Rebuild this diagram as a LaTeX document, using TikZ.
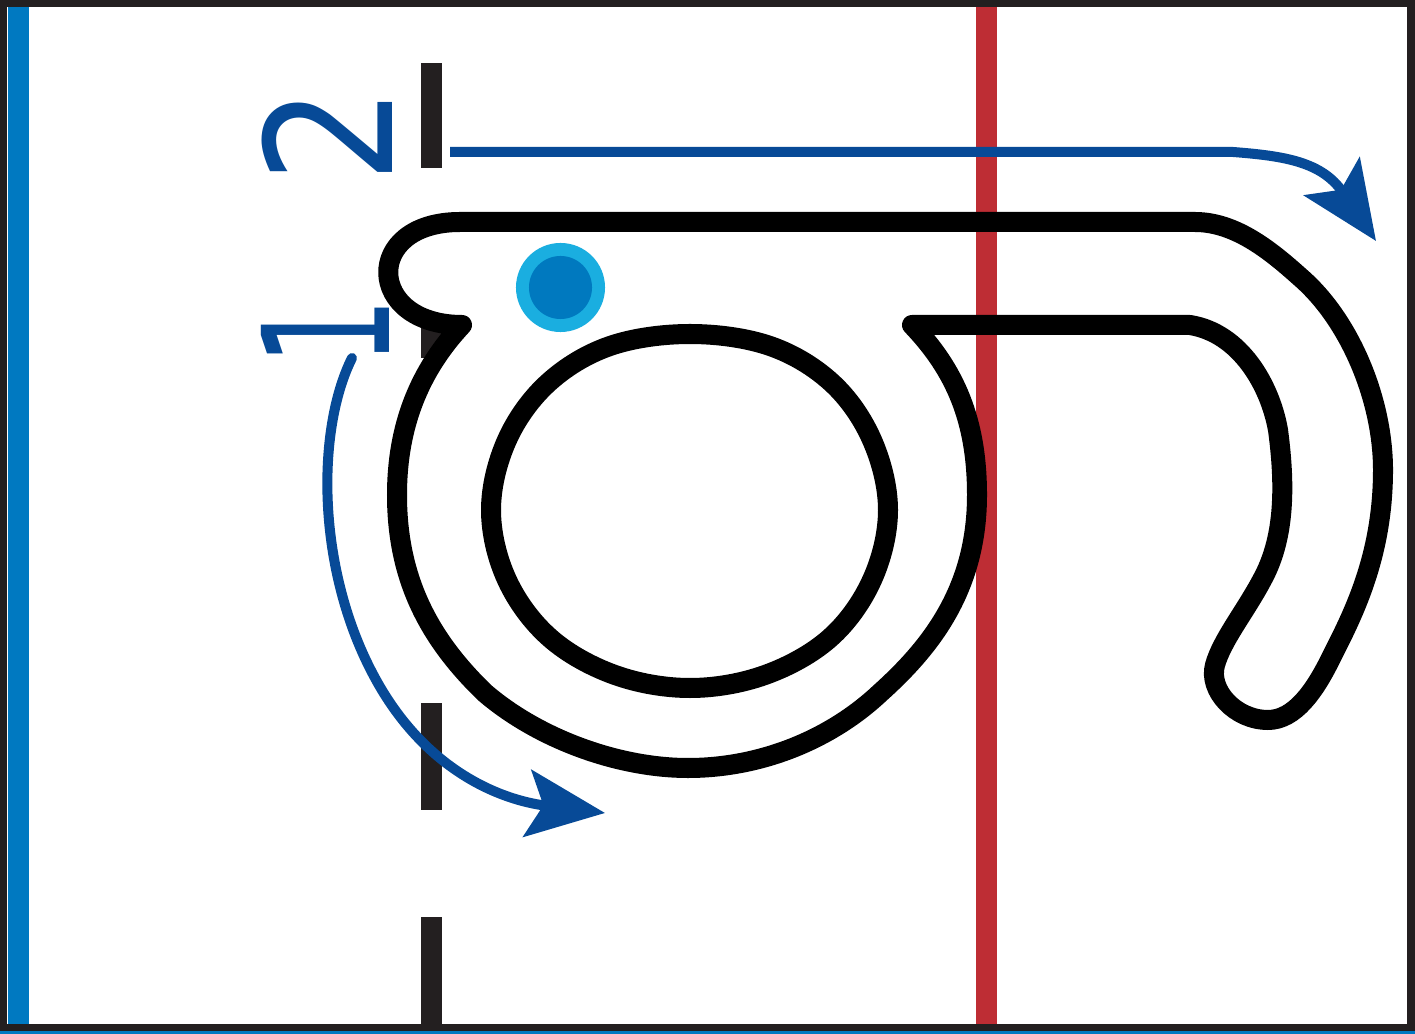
\documentclass[tikz,border=0pt]{standalone}
\usepackage{fontspec}
\newfontfamily\digitfont{DejaVu Sans}
\usepackage{xcolor}
\usetikzlibrary{arrows.meta}

\definecolor{frameblack}{HTML}{231F20}
\definecolor{blueline}{HTML}{0079C1}
\definecolor{redline}{HTML}{BE2D34}
\definecolor{playblue}{HTML}{074A97}
\definecolor{puckcyan}{HTML}{1AAEE0}
\definecolor{puckblue}{HTML}{0079BF}

\begin{document}
\begin{tikzpicture}[
  x=0.01cm, y=-0.01cm,
  skate/.style={line width=0.2cm, line join=round, black},
  play/.style={line width=0.1cm, playblue, -{Stealth[length=0.78cm, width=0.67cm, inset=0.16cm]}},
  numlabel/.style={rotate=90, inner sep=0pt, text=playblue, font=\digitfont\fontsize{50}{50}\selectfont},
]
  % ── Frame ──
  \fill[frameblack] (0,0) rectangle (1415,1031);
  \fill[blueline] (0,1031) rectangle (1415,1034);
  \fill[white] (7,7) rectangle (1407,1024);

  % ── Rink lines ──
  \fill[blueline] (8,7) rectangle (29,1024);
  \fill[redline] (976,7) rectangle (997,1024);
  \foreach \ya/\yb in {63/168, 325/358, 703/810, 917/1024}
    \fill[frameblack] (421,\ya) rectangle (442,\yb);

  % ── Skating route ──
  \draw[skate] (912,325) -- (1190,325)
    .. controls (1240,333) and (1270,385) .. (1278,430)
    .. controls (1286,490) and (1284,540) .. (1262,580)
    .. controls (1245,612) and (1222,640) .. (1215,665)
    .. controls (1208,690) and (1235,720) .. (1268,720)
    .. controls (1295,720) and (1315,690) .. (1330,660)
    .. controls (1350,620) and (1383,560) .. (1383,470)
    .. controls (1383,400) and (1350,320) .. (1300,277)
    .. controls (1270,250) and (1235,222) .. (1195,222)
    -- (460,222) .. controls (362,222) and (366,325) .. (462,325)
    .. controls (420,370) and (397,425) .. (397,495)
    .. controls (397,580) and (430,640) .. (485,693)
    .. controls (540,740) and (620,768) .. (688,768)
    .. controls (760,768) and (830,740) .. (880,693)
    .. controls (930,648) and (977,590) .. (977,495)
    .. controls (977,420) and (955,370) .. (912,325) -- cycle;

  \draw[skate] plot[smooth cycle, tension=0.6] coordinates {(690,334) (770,346) (832,383) (872,440)
    (888,510) (872,580) (830,638) (765,675) (690,688) (615,675) (550,638) (507,580) (491,510)
    (507,440) (548,383) (610,346)};

  % ── Puck ──
  \fill[puckcyan] (560.5,287.5) circle[radius=0.445cm];
  \fill[puckblue] (560.5,287.5) circle[radius=0.315cm];

  % ── Plays ──
  \draw[play, line cap=butt] (450,152) -- (1233,152)
    .. controls (1285,156) and (1322,162) .. (1376,241);
  \draw[play, line cap=round] (352,358) .. controls (316,430) and (316,570) .. (375,678)
    .. controls (425,770) and (500,800) .. (605,813);

  \node[numlabel] (two) at (327,135) {\scalebox{0.86}[1]{2}};
  \node[numlabel] (one) at (325,332) {\scalebox{0.6}[1]{1}};
\end{tikzpicture}
\end{document}
